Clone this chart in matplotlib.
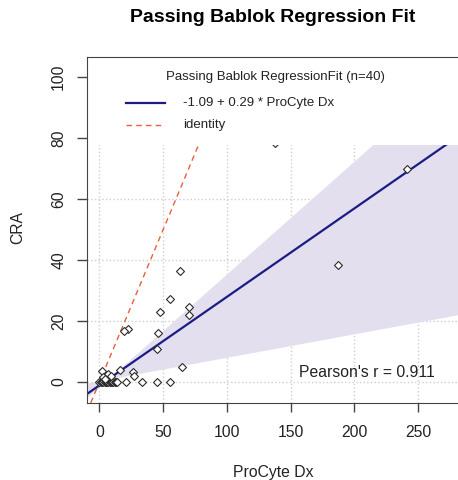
import numpy as np
import matplotlib
matplotlib.use("Agg")
import matplotlib.pyplot as plt
from matplotlib.patches import Rectangle

plt.rcParams['font.family'] = ['Liberation Sans', 'DejaVu Sans']

# data
procyte = [241, 187, 138, 63, 55.6, 47.7, 70, 70, 22.1, 19.2, 45.9, 45.4, 65,
           33, 45.4, 55.6, 20.6, 15.8, 26, 27.2, 2,
           0, 1, 2, 3, 4, 5, 6, 7, 8, 9, 10, 11, 12, 13, 14, 6.4, 8.8, 3, 4.5]
cra = [69.8, 38.4, 78.4, 36.5, 27.2, 22.9, 24.5, 22.1, 17.4, 16.8, 16.1, 10.7, 4.8,
       0, 0, 0, 0, 3.9, 3.4, 2.0, 3.6,
       0, 0, 0, 0, 0, 0, 0, 0, 0, 0, 0, 0, 0, 0, 0, 2.5, 2.0, 1.5, 1.0]
intercept, slope = -1.09, 0.29
upper_ci = (-1.5, 0.37)    # (intercept, slope) of band edge
lower_ci = (0.4, 0.077)
pearson_r = 0.911
xticks = [0, 50, 100, 150, 200, 250]
yticks = [0, 20, 40, 60, 80, 100]

W, H = 458, 480
fig = plt.figure(figsize=(W / 100, H / 100), dpi=100)
ax = fig.add_axes([87 / W, (H - 403) / H, (459 - 87) / W, 346 / H])
xlim = (-9.8, 282.2)
ylim = (-6.9, 106.6)
ax.set_xlim(*xlim)
ax.set_ylim(*ylim)

# grid
for t in xticks:
    ax.axvline(t, color='#cfcfcf', ls=':', lw=1, zorder=0.5)
for t in yticks:
    ax.axhline(t, color='#cfcfcf', ls=':', lw=1, zorder=0.5)

# confidence band
xs = np.linspace(xlim[0], xlim[1], 300)
e1 = upper_ci[0] + upper_ci[1] * xs
e2 = lower_ci[0] + lower_ci[1] * xs
ax.fill_between(xs, np.minimum(e1, e2), np.maximum(e1, e2),
                color='#e4dfee', lw=0, zorder=1)

# identity and fit
ax.plot(xs, xs, color='#e8603c', ls=(0, (4, 3)), lw=1, zorder=2)
ax.plot(xs, intercept + slope * xs, color='#1c1c85', lw=1.6, zorder=2.5)

ax.plot(procyte, cra, ls='none', marker='D', ms=4.3, mfc='white', mec='#2a2a2a',
        mew=0.8, zorder=3)

ax.text(156.6, 2.95, f"Pearson's r = {pearson_r}", fontsize=11.3, color='#222222',
        ha='left', va='center', zorder=4)

# white legend box
ax.add_patch(Rectangle((xlim[0], 77.7), xlim[1] - xlim[0], ylim[1] - 77.7,
                       facecolor='white', edgecolor='none', zorder=5))
ax.text(137.8, 100, 'Passing Bablok RegressionFit (n=40)', fontsize=9.5,
        color='#222222', ha='center', va='center', zorder=6)
ax.plot([20.8, 51.4], [91.5, 91.5], color='#1c1c85', lw=1.6, zorder=6)
ax.text(65.5, 91.5, f'{intercept} + {slope} * ProCyte Dx', fontsize=9.5,
        color='#222222', ha='left', va='center', zorder=6)
ax.plot([20.8, 51.4], [84.3, 84.3], color='#e8603c', ls=(0, (4, 3)), lw=1, zorder=6)
ax.text(65.5, 84.3, 'identity', fontsize=9.5, color='#222222',
        ha='left', va='center', zorder=6)

for s in ax.spines.values():
    s.set_color('#444444')
    s.set_zorder(10)

ax.set_xticks(xticks)
ax.set_yticks(yticks)
ax.tick_params(axis='x', length=6.5, width=1, color='#444444', pad=9,
               labelsize=11.3, labelcolor='#222222')
ax.tick_params(axis='y', length=7, width=1, color='#444444', pad=8,
               labelsize=11.3, labelcolor='#222222', labelrotation=90)
for lab in ax.get_yticklabels():
    lab.set_va('center')

fig.text(273 / W, 1 - 18 / H, 'Passing Bablok Regression Fit', fontsize=14,
         fontweight='bold', ha='center', va='center')
fig.text(273 / W, 1 - 472 / H, 'ProCyte Dx', fontsize=11.3, color='#222222',
         ha='center', va='center')
fig.text(18 / W, 1 - 228 / H, 'CRA', fontsize=11.3, color='#222222',
         ha='center', va='center', rotation=90)

fig.savefig('out.png', dpi=100)
